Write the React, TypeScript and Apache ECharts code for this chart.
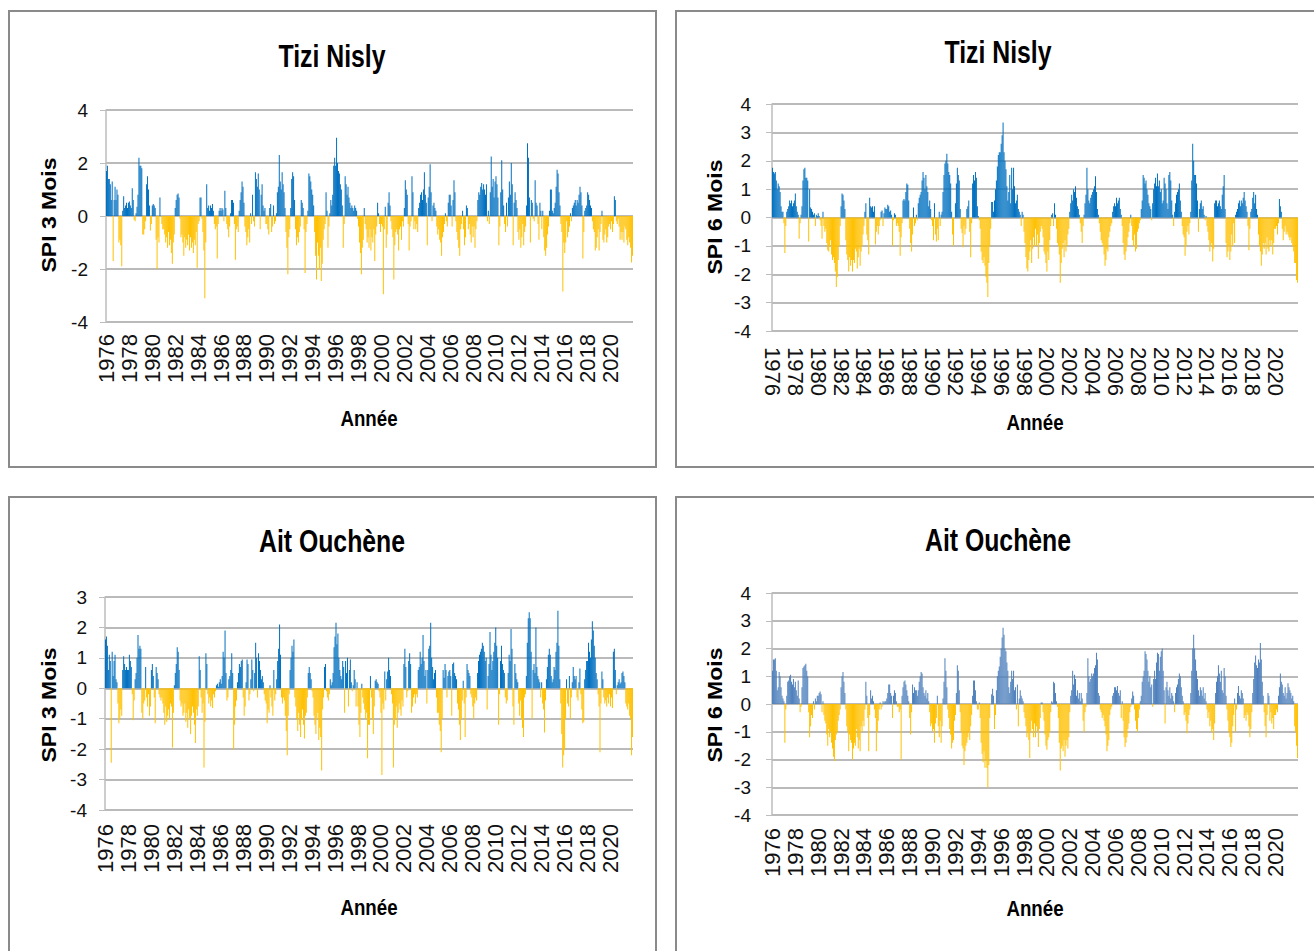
import React, { useEffect, useRef } from "react";
import * as echarts from "echarts";

const years = ["1976","1977","1978","1979","1980","1981","1982","1983","1984","1985","1986","1987","1988","1989","1990","1991","1992","1993","1994","1995","1996","1997","1998","1999","2000","2001","2002","2003","2004","2005","2006","2007","2008","2009","2010","2011","2012","2013","2014","2015","2016","2017","2018","2019","2020","2021"];

// SPI 3 mois - Tizi Nisly (monthly, Jan 1976 - Dec 2021)
const tiziSpi3 = [
1.7,1.9,1.4,1.4,1.2,0.6,1.3,-1.7,0.6,1.1,0.6,1.0,
0.8,-1.0,-0.9,-1.1,-1.9,0.2,0.75,0.3,0.4,0.5,0.3,0.5,
0.55,0.4,0.3,1.05,0.6,-0.15,-0.2,0.1,0.35,0.8,2.2,1.9,
1.9,1.8,-0.7,-0.7,-0.5,-0.2,1.2,1.5,1.0,0.4,-0.55,-0.3,
0.4,0.45,0.4,0.3,-0.9,-2.0,-0.8,-1.0,0.7,0.0,-0.3,-0.5,
-0.5,-0.7,-1.0,-0.8,-1.2,-0.6,-1.1,-0.9,-1.4,-1.8,-1.0,-0.7,
0.3,0.6,0.8,0.85,0.7,-0.1,-0.8,-0.7,-1.0,-1.5,-0.8,-1.2,
-0.9,-1.1,-0.7,-1.3,-0.8,-1.2,-1.0,-1.4,-0.9,-1.1,-0.6,-1.95,
-0.3,-0.2,0.7,0.7,-0.1,-0.6,-1.3,-3.1,-1.0,1.2,0.3,0.4,
0.2,0.4,0.3,0.45,0.2,-0.3,-0.5,-0.4,-1.6,-0.3,0.2,0.3,
0.2,0.3,0.25,-0.2,0.95,0.3,-0.3,-0.5,-0.8,-0.4,0.1,0.6,
0.6,0.5,-0.3,-1.65,-0.5,-0.4,-0.6,0.2,0.6,0.9,1.3,1.1,
0.5,-0.4,-0.6,-1.1,-0.8,-0.5,-1.0,0.1,-0.3,0.8,-0.2,-0.4,
1.65,1.4,1.1,1.6,1.0,-0.5,0.8,1.2,0.4,0.2,0.3,-0.3,
-0.3,-0.5,-0.7,0.3,0.45,-0.6,-0.4,0.4,-0.3,-0.2,0.1,0.9,
1.1,2.3,1.3,1.0,1.65,1.2,0.9,0.3,-0.6,-1.2,-2.2,-0.8,
-0.5,0.3,1.4,1.65,1.5,0.6,-0.5,-1.1,-0.8,-1.0,-0.6,-0.4,
0.6,0.5,0.3,-0.5,-2.15,-0.6,-0.3,0.2,1.6,1.5,1.3,1.0,
0.8,0.4,-0.6,-1.5,-2.4,-1.0,-1.5,-2.0,-1.2,-2.45,-1.8,-0.9,
-0.5,-0.3,0.9,0.2,-1.2,-0.4,0.1,0.6,0.4,0.8,1.9,2.2,
1.9,2.95,2.0,1.7,1.6,1.2,1.0,0.4,-1.2,-0.3,1.5,1.2,
0.8,1.1,0.7,0.5,0.3,0.4,0.3,0.2,0.4,0.3,0.2,-0.1,
-0.4,-1.0,-1.4,-2.2,-1.2,-0.9,0.3,-0.3,-0.5,-1.0,-0.8,-1.2,
-0.5,-1.3,-0.8,-1.0,-0.5,-1.7,-0.7,-0.4,0.5,0.1,-0.3,-0.6,
-0.3,-0.4,-2.95,-0.5,0.35,-1.2,-0.7,0.5,0.9,0.4,-0.2,-0.5,
-0.8,-2.4,-1.1,-0.6,-0.5,-0.7,-1.3,-0.5,-0.4,-0.9,-0.2,-0.4,
0.3,1.35,1.0,0.8,-0.3,-1.3,-0.4,-0.2,1.5,0.9,-0.5,-0.2,
-0.5,-0.3,-0.6,0.3,0.5,0.8,0.9,0.6,1.0,1.65,0.8,0.5,
-1.1,0.7,1.1,1.95,0.9,-0.2,0.4,0.5,0.3,0.2,-0.4,-0.7,
-0.5,-0.9,-1.0,-1.5,-0.8,-0.6,-0.3,0.1,-0.2,-0.4,0.5,0.8,
0.8,0.4,-0.4,0.6,1.35,0.9,-0.2,-0.6,-0.9,-1.2,-1.5,-0.5,
-0.3,0.2,-0.5,-1.1,-0.8,0.4,0.3,-0.5,-0.3,-0.7,-1.0,-0.4,
-0.8,-0.4,-1.2,-0.5,-0.2,0.6,0.9,0.8,1.1,1.25,1.0,1.2,
1.0,0.8,1.2,-0.2,0.2,-0.3,0.9,2.25,1.1,1.4,0.7,1.3,
1.5,1.2,0.7,-1.1,-0.4,0.9,2.1,1.0,0.4,-0.3,-0.6,0.5,
-0.4,0.7,1.3,0.8,2.0,1.2,-1.1,0.5,0.9,0.6,0.3,-0.6,
-0.9,-0.5,-1.2,-0.8,-0.3,-1.1,-0.6,-0.4,0.4,2.75,2.2,0.7,
-1.0,0.6,0.5,-0.1,-0.2,1.35,0.5,0.4,-0.3,-0.9,0.5,0.2,
-0.5,0.2,-0.8,-1.3,-1.5,-1.2,-0.7,-0.4,0.2,1.0,1.0,0.2,
0.1,0.3,0.5,1.1,1.75,1.6,0.9,0.4,-0.3,-0.6,-2.85,-1.0,
-1.4,-1.0,-0.2,-0.8,-0.6,-0.4,0.1,-0.2,0.3,0.4,0.5,0.6,
0.4,0.6,0.5,0.8,1.1,0.9,0.4,-1.6,-0.6,0.2,0.3,0.4,
0.9,0.8,0.6,0.4,0.3,-0.2,-0.5,-0.6,-1.3,-1.2,-0.8,-0.5,
-1.3,-0.6,-0.3,0.2,-0.9,-1.0,-0.7,-0.5,-1.0,-0.8,-0.4,-0.3,
-0.5,-0.2,-0.6,-0.3,0.75,0.6,-0.2,-0.3,-0.1,-0.4,-0.9,-0.6,
-0.9,-0.6,-1.0,-0.4,-0.5,-0.9,-1.1,-0.8,-1.0,-1.2,-1.75,-1.5
];

// SPI 6 mois - Tizi Nisly
const tiziSpi6 = [
1.75,1.6,1.55,1.6,1.3,1.0,1.2,1.1,0.9,0.4,0.2,0.2,
-0.2,-1.25,-0.3,0.2,0.3,0.4,0.6,0.5,0.6,0.4,0.5,0.6,
0.85,0.4,0.2,0.1,-0.75,-0.2,0.1,0.4,1.3,1.7,1.75,1.4,
1.4,1.3,-0.85,1.0,0.35,0.3,0.2,0.1,0.15,-0.3,0.1,0.05,
0.15,0.05,-0.1,-0.3,-0.75,0.2,-0.3,-0.5,-0.4,-0.9,-1.15,-1.2,
-1.0,-0.8,-1.3,-1.5,-1.4,-1.6,-1.9,-2.45,-2.1,-1.5,-1.0,-0.3,
0.4,0.85,0.8,0.6,0.3,-0.8,-1.3,-1.5,-1.9,-1.4,-1.7,-1.5,
-1.9,-1.5,-1.6,-1.1,-1.2,-1.8,-1.4,-1.1,-1.7,-1.2,-1.0,-0.6,
-0.3,0.2,0.5,-0.6,-0.8,-1.3,0.7,0.4,0.35,0.4,0.2,0.4,
-0.95,-0.5,-0.3,-0.6,-0.3,-0.1,0.2,0.25,-0.3,0.15,0.35,0.3,
0.3,0.45,0.4,0.2,0.25,0.1,-1.0,-0.1,0.15,0.1,-0.3,-0.2,
-0.3,-0.5,-1.35,-0.7,-0.2,0.6,0.65,0.6,0.9,1.2,1.15,0.6,
-0.4,-0.9,-1.2,-0.6,0.35,-0.3,-0.2,0.1,-0.1,0.5,0.7,0.8,
0.9,1.3,1.6,1.4,1.0,1.5,1.1,0.9,0.4,0.6,0.3,-0.1,
-0.3,-0.8,0.5,-0.6,-0.85,-0.4,-0.8,0.2,-0.3,0.1,0.2,0.9,
1.5,1.9,2.0,2.25,1.9,1.6,1.5,1.2,0.2,-0.6,-1.0,0.0,
0.5,1.2,1.75,1.5,1.3,0.3,-0.4,-0.55,-1.05,-0.3,-0.6,-0.4,
0.3,0.4,0.6,-0.5,-1.4,-0.2,1.2,1.5,1.3,1.6,1.4,0.4,
0.05,-0.1,-0.4,-1.2,-1.5,-1.6,-1.4,-1.7,-2.1,-2.3,-2.8,-1.6,
-1.0,-0.4,0.55,0.55,0.2,0.6,1.0,1.3,1.8,2.2,2.3,2.3,
2.6,2.9,3.35,2.3,2.0,1.7,1.1,0.6,0.9,1.5,0.5,1.75,
1.0,1.75,1.1,0.5,0.6,0.8,0.3,0.2,0.1,-0.3,0.2,0.1,
-0.5,-0.9,-1.4,-1.8,-1.9,-1.5,-1.2,-0.8,-1.6,-1.1,-0.7,-1.0,
-0.4,-1.0,-0.6,-1.45,-0.9,-0.5,-0.3,-0.4,-0.7,-1.2,-1.3,-1.6,
-1.9,-1.2,-1.5,-0.8,-0.3,0.1,0.15,-0.3,0.5,0.1,-0.4,-0.9,
-1.0,-1.3,-2.3,-1.6,-1.1,-0.9,-1.4,-0.8,-1.2,-1.0,-0.6,-0.4,
0.2,0.5,0.8,0.6,1.0,0.9,1.1,0.7,0.4,0.3,0.1,-0.2,
-0.5,-0.9,-0.3,0.1,0.5,0.8,1.75,1.0,0.6,0.5,0.7,0.8,
0.9,1.0,1.1,1.45,0.9,0.3,0.1,-0.2,-0.5,-0.8,-0.9,-1.0,
-1.3,-1.7,-1.5,-1.1,-1.2,-0.7,-0.5,-0.3,-0.2,0.2,0.4,0.5,
0.4,0.7,0.5,0.6,0.7,0.3,0.1,-0.3,-0.9,-1.3,-1.5,-1.2,
-1.0,-0.7,-0.5,-0.2,0.1,-0.3,-0.8,-1.0,-0.6,-1.2,-1.1,-0.5,
-0.4,-0.2,-0.1,0.3,0.6,1.5,1.4,1.2,1.3,1.0,0.8,0.5,
0.4,0.3,-0.1,0.5,1.0,1.2,1.4,1.1,1.55,1.1,1.3,0.9,
1.0,0.5,0.6,1.4,1.2,1.0,0.5,0.3,1.5,1.6,1.3,0.6,
0.1,-0.3,0.2,0.5,0.8,0.9,1.0,1.2,0.6,0.2,-0.3,-0.6,
-0.7,-1.35,-1.0,-0.5,-0.3,-0.6,-0.2,0.2,1.3,2.6,2.0,1.5,
1.5,1.2,0.6,-0.5,0.3,0.5,0.6,0.3,0.4,0.1,-0.1,0.05,
-0.3,-0.5,-0.8,-1.2,-1.0,-0.9,-1.55,-1.1,0.5,0.6,0.6,0.4,
0.5,0.6,0.4,0.3,0.8,1.1,1.5,0.3,-0.9,-1.4,-1.2,-1.0,
-1.5,-1.2,-0.6,-1.0,-0.2,-0.9,0.1,0.2,0.3,0.5,0.6,0.4,
0.6,0.5,0.7,0.9,0.6,0.4,0.2,-0.3,-1.15,-0.4,0.2,0.3,
0.7,0.9,0.5,0.8,0.3,0.1,-0.6,-1.0,-1.2,-1.7,-1.3,-0.9,
-1.1,-0.9,-1.3,-0.7,-1.1,-1.2,-0.8,-1.0,-0.8,-1.3,-0.9,-0.4,
-0.4,-0.3,-0.6,-0.2,0.65,0.4,0.2,-0.4,-0.8,-0.5,-0.3,-0.6,
-0.5,-0.6,-0.7,-0.8,-0.7,-0.9,-1.0,-1.2,-1.6,-1.6,-2.2,-2.3
];

// SPI 3 mois - Ait Ouchène
const aitSpi3 = [
1.6,1.7,1.4,0.6,1.1,0.9,-2.45,1.2,0.4,0.9,1.1,0.3,
0.2,-0.5,-1.15,-1.0,-0.7,-0.9,0.6,1.05,0.8,0.6,0.7,0.6,
0.6,1.1,0.9,0.7,-0.2,-1.05,-0.4,0.3,0.5,1.0,1.75,1.3,
1.4,1.3,-0.8,-1.0,-0.5,-0.4,0.7,-0.3,-0.6,-0.2,-0.9,-0.6,
0.6,0.8,0.4,-0.3,-1.15,0.7,0.5,0.3,-0.2,-0.3,-0.4,-0.3,
-0.5,-0.8,-1.2,-0.6,-1.1,-0.9,-0.7,-1.0,-0.5,-0.6,-1.95,-0.8,
0.1,0.5,0.8,1.35,1.2,0.6,-0.4,-0.6,-0.5,-0.9,-0.8,-0.5,
-1.1,-0.8,-1.3,-0.7,-1.0,-1.5,-0.9,-0.6,-0.8,-1.2,-1.8,-0.7,
-0.9,-0.6,1.05,0.6,-0.3,-0.8,-0.5,-2.6,-1.1,1.15,0.8,-0.2,
-0.5,-0.3,-0.6,-0.4,-0.65,-0.2,-0.3,-0.1,0.1,0.15,0.05,0.2,
0.3,0.15,0.4,1.2,1.0,1.9,0.5,-0.4,-0.3,0.3,0.4,0.6,
1.15,0.5,-2.0,-1.2,-0.6,-0.4,0.2,0.5,0.8,0.7,0.9,0.95,
-0.3,-0.9,-0.6,0.2,0.95,0.8,-0.4,-0.2,0.3,0.95,0.6,-0.1,
0.5,1.5,1.0,-0.3,1.15,0.9,0.6,0.3,0.4,0.2,-0.2,-0.4,
-0.5,-1.15,-0.7,-0.8,0.1,-0.3,-0.6,-0.9,0.6,-0.4,-0.2,0.3,
0.9,1.3,2.1,1.1,-0.3,-0.5,-0.3,-0.4,-0.9,-1.4,-2.2,-0.9,
-0.2,0.6,1.0,1.4,1.2,1.6,-0.3,-0.6,-1.0,-1.4,-0.8,-1.2,
-1.6,-1.0,-0.7,-1.2,-1.65,-0.9,-0.8,-0.3,0.5,0.7,0.5,0.3,
-0.1,-0.3,-0.9,-1.2,-1.5,-1.0,-0.8,-1.7,-1.3,-1.6,-2.7,-0.7,
-0.3,0.7,0.8,-0.1,-0.3,-0.4,-0.2,0.3,0.1,0.2,0.5,1.35,
1.7,2.15,1.45,1.8,1.0,0.6,0.4,0.3,0.9,0.7,-0.8,0.9,
0.5,1.0,-0.6,0.6,0.95,0.2,-0.1,0.1,0.6,0.3,-0.6,0.2,
-0.6,-1.2,-1.6,-0.8,0.15,-0.3,-0.5,-0.7,-1.0,-0.8,-2.3,-1.2,
-1.2,0.4,-0.3,-1.0,-1.5,-0.6,0.25,0.3,0.2,0.15,-0.1,-0.3,
-0.8,-2.85,-0.5,-0.7,0.55,-0.4,0.3,0.55,1.0,0.6,0.4,-0.2,
-0.5,-2.6,-1.2,-1.0,-0.6,-1.3,-0.8,-0.5,-0.7,-0.9,-0.4,-0.6,
0.8,1.3,0.7,-0.3,-0.1,0.9,1.15,0.8,-0.8,-0.6,-0.3,-0.2,
-0.5,-0.2,-0.3,0.6,0.7,1.2,0.8,1.0,1.75,0.9,0.4,0.6,
-0.5,0.6,1.3,1.4,2.15,1.0,0.7,0.3,0.5,0.6,-0.3,-0.8,
-0.8,-1.2,-1.4,-2.1,-1.0,0.6,0.35,0.8,0.6,-0.3,0.4,0.55,
0.6,0.4,-0.9,0.8,0.85,0.5,0.4,0.3,-0.5,-0.7,-1.2,-1.7,
-1.0,-0.4,0.25,-0.5,-1.6,-0.3,0.8,0.6,0.5,0.4,-0.2,-0.3,
-0.6,-1.0,-0.5,-0.3,-0.4,0.5,0.9,1.1,1.2,1.3,1.5,1.4,
1.2,0.9,1.0,-0.7,0.4,0.8,1.85,1.1,0.6,0.9,1.2,1.5,
2.0,1.4,1.0,-1.2,-0.2,0.9,1.4,0.8,0.6,0.5,-0.3,-0.5,
-0.4,0.5,1.1,0.9,1.95,1.3,-0.6,-1.2,0.8,0.5,0.3,0.2,
-0.5,-0.9,-0.4,-1.0,-1.3,-1.6,-0.3,-0.2,0.4,1.5,2.3,2.5,
2.3,1.2,-1.0,0.6,0.8,0.5,2.0,0.7,0.4,0.3,0.2,-0.3,
0.2,-0.5,-0.7,-1.45,-0.4,0.3,0.7,1.1,1.3,1.1,0.4,0.2,
0.3,0.7,0.6,1.2,1.5,2.55,1.4,0.3,-0.5,-1.5,-2.6,-2.2,
-2.0,-1.0,0.3,-0.5,-0.6,0.4,-1.0,-0.3,0.2,0.7,0.4,0.3,
0.4,-0.3,-0.4,0.2,0.65,-0.2,-0.7,-1.15,-1.1,0.3,0.6,0.9,
0.9,1.5,1.2,1.0,1.6,2.2,1.9,1.4,1.0,0.5,0.3,-0.2,
-0.6,-2.1,-0.5,0.55,0.3,-0.3,-0.5,-0.4,-0.6,-0.3,-0.5,-0.2,
-0.6,-0.3,-0.65,1.2,1.3,0.6,-0.2,0.1,0.2,0.3,0.15,0.2,
0.5,0.55,0.4,0.2,-0.5,-0.6,-0.7,-0.5,-0.9,-1.0,-2.2,-1.6
];

// SPI 6 mois - Ait Ouchène
const aitSpi6 = [
1.2,1.6,1.6,1.65,1.2,0.5,0.6,1.15,1.0,0.6,0.3,0.2,
0.1,-1.4,-0.2,0.3,0.8,0.85,1.0,1.05,0.8,0.7,0.9,0.6,
0.8,0.5,0.3,0.85,0.2,-0.3,-0.1,0.6,1.3,1.35,1.4,1.45,
1.2,1.0,-0.3,-1.2,-0.8,-0.4,-0.5,0.1,-0.2,0.2,0.1,0.3,
0.3,0.4,0.45,0.35,-0.3,0.1,-0.4,-0.6,-0.7,-1.1,-1.5,-0.9,
-1.2,-1.0,-1.4,-1.6,-1.9,-2.05,-1.3,-1.1,-1.0,-0.6,-0.4,-0.2,
0.6,1.0,1.15,0.8,0.4,-0.2,-0.8,-1.0,-1.7,-1.1,-1.3,-1.4,
-2.0,-1.6,-1.4,-1.5,-0.9,-1.2,-1.6,-1.3,-1.7,-0.8,-1.0,-0.6,
-0.8,-0.2,0.8,0.3,-0.5,-1.7,-0.4,0.5,0.2,0.3,0.1,-0.2,
-0.5,-1.7,-1.0,-0.6,-0.2,0.05,-0.2,-0.1,0.1,0.05,0.1,0.1,
0.2,0.4,0.7,0.7,0.4,0.3,-0.5,0.3,0.5,0.4,0.1,-0.1,
-0.1,-0.3,-0.2,-2.0,0.3,0.6,0.8,0.85,0.7,0.5,0.3,0.1,
-0.5,-1.1,-0.3,0.7,0.4,0.6,0.5,0.5,0.3,0.5,0.8,1.0,
1.15,1.1,0.6,0.4,0.3,0.5,0.2,0.4,0.1,-0.3,-0.8,-0.7,
-1.0,-0.9,-1.4,-0.7,-0.5,0.3,-0.8,-1.2,-0.6,-1.4,-0.8,0.2,
0.8,1.65,1.2,0.6,-0.2,-0.5,-0.9,-1.1,-1.6,-1.4,-1.3,-0.6,
-0.4,0.4,1.4,1.2,0.5,-0.3,-1.0,-1.5,-1.6,-2.2,-1.7,-1.5,
-1.4,-1.2,-1.0,-1.3,-0.8,-0.4,0.3,0.85,0.85,0.5,0.1,-0.2,
-0.2,0.05,-0.5,-1.4,-1.8,-2.1,-1.7,-2.3,-2.0,-2.3,-3.0,-2.2,
-0.5,0.0,0.35,0.55,0.3,-0.9,-0.4,0.5,1.0,1.2,1.35,1.7,
2.0,2.4,2.75,2.5,2.0,1.9,1.5,1.2,0.6,0.4,0.8,1.2,
0.9,1.2,0.5,0.6,-0.2,0.7,-0.8,0.2,0.5,0.3,0.2,0.1,
-0.3,-0.5,-0.8,-1.2,-1.0,-1.3,-1.95,-1.0,-0.6,-0.9,-1.2,-0.7,
-1.2,-0.8,-1.0,-1.55,-0.9,-0.5,0.05,0.05,-0.3,-0.6,-1.1,-1.5,
-1.65,-1.3,-1.2,-1.0,-0.3,0.1,0.05,0.8,0.75,0.4,0.1,-0.1,
-0.5,-1.4,-2.4,-1.6,-1.5,-1.7,-1.3,-1.9,-1.5,-1.3,-1.6,-1.2,
-0.3,0.3,0.5,1.2,0.7,1.05,0.9,0.3,0.5,0.2,0.4,0.1,
0.4,0.2,-0.6,-1.0,-0.3,-0.1,0.4,1.65,1.0,0.8,0.9,1.1,
1.0,1.1,1.3,1.4,1.85,1.6,0.4,0.3,-0.2,-0.3,-0.5,-0.4,
-0.6,-0.8,-1.1,-1.7,-1.5,-1.3,-0.4,-0.2,-0.1,0.3,0.4,0.6,
0.6,0.5,0.65,0.4,0.3,0.5,-0.5,0.1,-0.6,-1.2,-1.55,-1.4,
-1.2,-0.9,-0.7,-0.3,-0.1,0.2,0.45,0.3,-0.2,-0.6,-0.9,-1.0,
-0.5,-0.2,0.1,0.3,0.8,1.0,1.2,1.9,1.8,1.6,1.2,0.8,
1.0,0.6,0.7,-0.1,0.9,1.2,0.9,1.5,1.85,1.8,1.2,1.7,
1.9,2.0,1.2,0.5,-0.7,0.6,0.8,0.5,0.3,0.6,0.2,0.4,
0.3,0.1,-0.3,0.4,0.6,0.7,0.9,1.1,1.0,0.6,0.3,0.1,
-0.4,-0.3,-0.6,-1.05,-0.7,-0.4,-0.2,0.4,1.2,2.0,2.5,2.0,
1.6,1.2,0.9,0.5,0.3,0.6,0.5,0.3,0.6,0.2,0.4,0.1,
-0.2,-0.5,-0.3,-0.8,-0.6,-1.0,-0.9,-1.3,-0.7,0.4,0.8,1.0,
1.4,1.1,0.8,1.2,0.5,0.4,1.3,1.0,0.3,-0.2,-0.6,-1.0,
-1.2,-1.55,-1.4,-0.8,-0.4,0.2,-1.0,-0.2,0.4,0.65,0.3,0.2,
0.5,0.4,0.2,-0.5,-0.4,-0.6,-0.3,-0.4,-0.8,-1.2,-0.9,-0.3,
0.4,0.9,1.5,1.75,1.4,1.3,1.6,1.5,2.2,1.6,0.8,0.3,
-0.3,-0.8,-1.2,-0.4,0.4,0.3,-0.6,-0.3,-0.7,-0.5,-0.9,-0.4,
-0.4,-0.2,-0.3,0.3,0.6,1.1,0.8,0.7,0.4,0.3,0.6,0.2,
0.4,0.75,0.6,0.5,0.4,0.2,0.3,0.1,-0.8,-1.0,-1.5,-1.95
];

const titles = ["Tizi Nisly", "Tizi Nisly", "Ait Ouchène", "Ait Ouchène"];
const yNames = ["SPI 3 Mois", "SPI 6 Mois", "SPI 3 Mois", "SPI 6 Mois"];
const xName = "Année";

const BLUE = "#0070C0";
const BLUE2 = "#4F81BD";
const YELLOW = "#FFC000";
const SANS = "'Liberation Sans', Arial, sans-serif";

export default function App() {
  const ref = useRef<HTMLDivElement>(null);
  useEffect(() => {
    if (!ref.current) return;
    const chart = echarts.init(ref.current, undefined, { renderer: "svg" });
    const months: string[] = years.flatMap((y) => Array(12).fill(y));

    const panels = [
      { data: tiziSpi3, blue: BLUE, grid: { left: 106, top: 110, width: 527, height: 212 }, min: -4, max: 4, interval: 2, rot: 90, xm: 12, ym: 18,
        title: [332, 57], yName: [50, 215], xName: [369, 418] },
      { data: tiziSpi6, blue: BLUE, grid: { left: 772, top: 104, width: 526, height: 227 }, min: -4, max: 4, interval: 1, rot: -90, xm: 16, ym: 21,
        title: [998, 53], yName: [716, 217], xName: [1035, 422] },
      { data: aitSpi3, blue: BLUE, grid: { left: 105, top: 597, width: 528, height: 213 }, min: -4, max: 3, interval: 1, rot: 90, xm: 14, ym: 18,
        title: [332, 542], yName: [50, 705], xName: [369, 907] },
      { data: aitSpi6, blue: BLUE2, grid: { left: 772, top: 593, width: 526, height: 222 }, min: -4, max: 4, interval: 1, rot: 90, xm: 13, ym: 21,
        title: [998, 541], yName: [716, 705], xName: [1035, 908] },
    ];

    const graphic: any[] = [
      { type: "rect", shape: { x: 9, y: 11, width: 647, height: 456 }, style: { fill: "none", stroke: "#8a8a8a", lineWidth: 2 } },
      { type: "rect", shape: { x: 676, y: 11, width: 660, height: 456 }, style: { fill: "none", stroke: "#8a8a8a", lineWidth: 2 } },
      { type: "rect", shape: { x: 9, y: 497, width: 647, height: 470 }, style: { fill: "none", stroke: "#8a8a8a", lineWidth: 2 } },
      { type: "rect", shape: { x: 676, y: 497, width: 660, height: 470 }, style: { fill: "none", stroke: "#8a8a8a", lineWidth: 2 } },
    ];
    panels.forEach((p, i) => {
      graphic.push({ type: "text", x: p.title[0], y: p.title[1], scaleX: 0.8, style: { text: titles[i], fontSize: 31, fontWeight: "bold", fontFamily: SANS, fill: "#000", textAlign: "center", textVerticalAlign: "middle" } });
      graphic.push({ type: "text", x: p.yName[0], y: p.yName[1], rotation: Math.PI / 2, scaleY: 0.85, style: { text: yNames[i], fontSize: 23, fontWeight: "bold", fontFamily: SANS, fill: "#000", textAlign: "center", textVerticalAlign: "middle" } });
      graphic.push({ type: "text", x: p.xName[0], y: p.xName[1], scaleX: 0.85, style: { text: xName, fontSize: 22, fontWeight: "bold", fontFamily: SANS, fill: "#000", textAlign: "center", textVerticalAlign: "middle" } });
    });

    chart.setOption({
      animation: false,
      backgroundColor: "#fff",
      grid: panels.map((p) => ({ ...p.grid, containLabel: false })),
      xAxis: panels.map((p, i) => ({
        gridIndex: i,
        type: "category",
        data: months,
        boundaryGap: true,
        axisLine: { show: false, onZero: false },
        axisTick: { show: false },
        splitLine: { show: false },
        axisLabel: { interval: 23, rotate: p.rot, margin: p.xm, fontSize: 22, fontFamily: SANS, color: "#111" },
      })),
      yAxis: panels.map((p, i) => ({
        gridIndex: i,
        type: "value",
        min: p.min,
        max: p.max,
        interval: p.interval,
        axisLine: { show: true, lineStyle: { color: "#bdbdbd", width: 1.5 } },
        axisTick: { show: true, length: 6, lineStyle: { color: "#bdbdbd" } },
        splitLine: { show: true, lineStyle: { color: "#a3a3a3", width: 1.5 } },
        axisLabel: { margin: p.ym, fontSize: 19, fontFamily: SANS, color: "#111" },
      })),
      series: panels.map((p, i) => ({
        type: "bar",
        xAxisIndex: i,
        yAxisIndex: i,
        data: p.data,
        barCategoryGap: "0%",
        itemStyle: { color: (prm: any) => (prm.value >= 0 ? p.blue : YELLOW) },
      })),
      graphic,
    });
    return () => chart.dispose();
  }, []);
  return <div ref={ref} style={{ position: "absolute", left: 0, top: 0, width: 1314, height: 951 }} />;
}
